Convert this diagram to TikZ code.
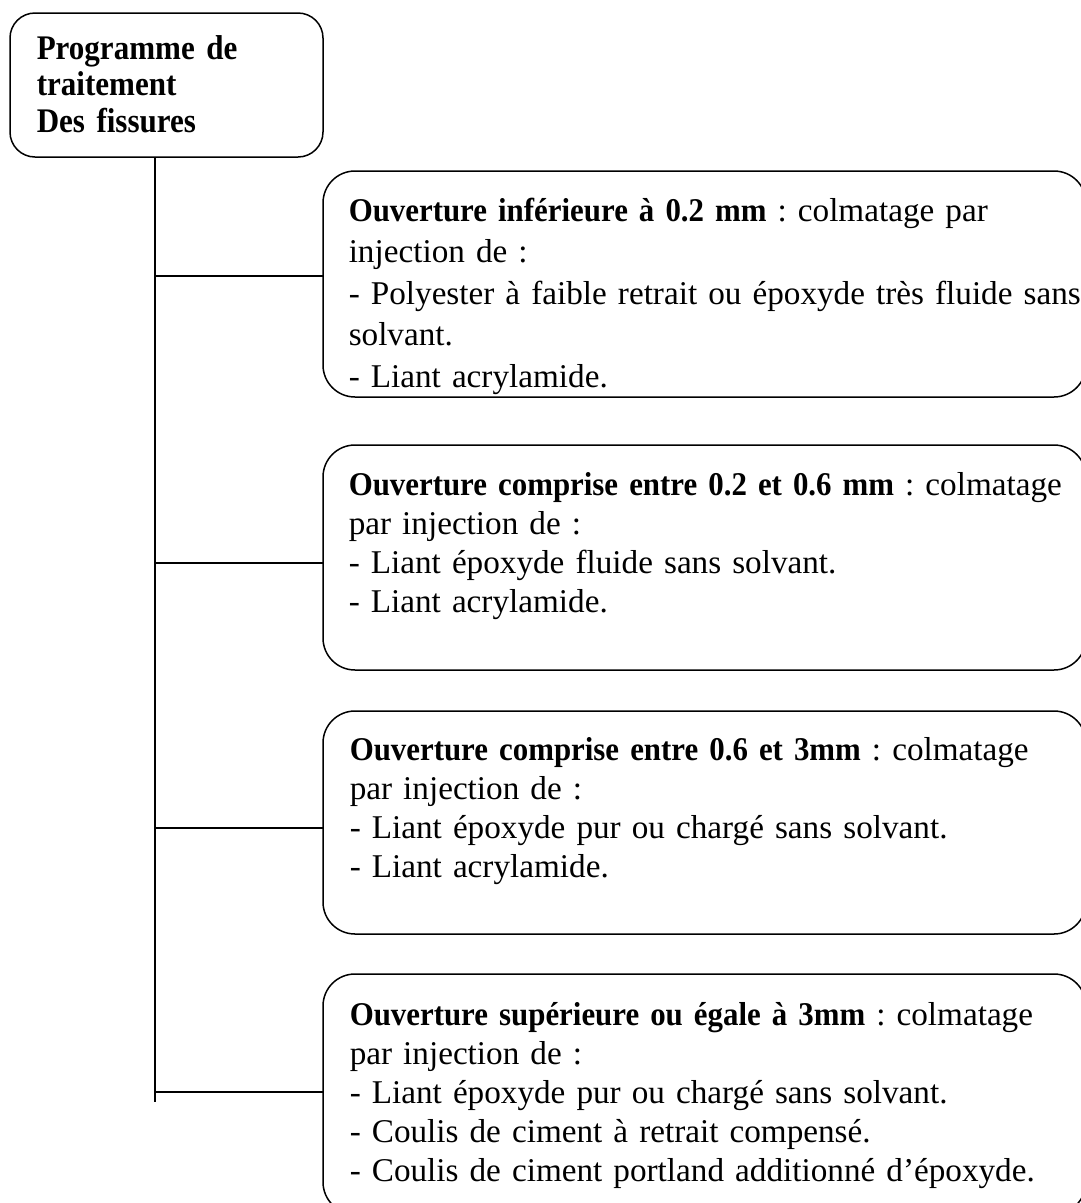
\documentclass[tikz,border=0pt]{standalone}
\usepackage{fontspec}
\setmainfont{Liberation Serif}[BoldFeatures={FakeStretch=0.93}]
\newfontfamily\ttlfont{Liberation Serif}[FakeStretch=0.9]
\frenchspacing
\begin{document}
\begin{tikzpicture}[x=1pt,y=-1pt,line width=1.5pt,
  box/.style={draw, rounded corners=32pt, minimum width=763pt, anchor=north west, inner sep=0pt, outer sep=0pt},
  titlebox/.style={draw, rounded corners=25pt, minimum width=313pt, minimum height=144pt, anchor=north west, inner sep=0pt, outer sep=0pt},
  txt/.style={anchor=base west, inner sep=0pt, text width=900pt, align=left, font=\fontsize{33.2}{39}\selectfont},
  txtA/.style={txt, font=\fontsize{33.2}{41.5}\selectfont},
  ttl/.style={anchor=base west, inner sep=0pt, text width=300pt, align=left, font=\ttlfont\fontsize{34.5}{36.5}\selectfont\bfseries},
  conn/.style={draw, line width=1.5pt}]
\useasboundingbox (0,0) rectangle (1081,1203);
% boxes
\node[titlebox] (t) at (10,13) {};
\node[box, minimum height=226pt] (b1) at (323,171) {};
\node[box, minimum height=225pt] (b2) at (323,445) {};
\node[box, minimum height=223pt] (b3) at (323,711) {};
\node[box, minimum height=240pt] (b4) at (323,974) {};
% texts
\node[ttl] (tt) at (36,59) {Programme de\\traitement\\Des fissures};
\node[txtA] (x1) at (348,221) {\textbf{Ouverture inférieure à 0.2 mm} : colmatage par\\injection de :\\- Polyester à faible retrait ou époxyde très fluide sans\\solvant.\\- Liant acrylamide.};
\node[txt] (x2) at (348,495) {\textbf{Ouverture comprise entre 0.2 et 0.6 mm} : colmatage\\par injection de :\\- Liant époxyde fluide sans solvant.\\- Liant acrylamide.};
\node[txt] (x3) at (349,760) {\textbf{Ouverture comprise entre 0.6 et 3mm} : colmatage\\par injection de :\\- Liant époxyde pur ou chargé sans solvant.\\- Liant acrylamide.};
\node[txt] (x4) at (349,1025) {\textbf{Ouverture supérieure ou égale à 3mm} : colmatage\\par injection de :\\- Liant époxyde pur ou chargé sans solvant.\\- Coulis de ciment à retrait compensé.\\- Coulis de ciment portland additionné d\symbol{39}époxyde.};
% trunk and branches
\coordinate (trunk) at (155,157);
\coordinate (trunkEnd) at (155,1102);
\coordinate (j1) at (155,276);
\coordinate (j2) at (155,563);
\coordinate (j3) at (155,828);
\coordinate (j4) at (155,1092);
\draw[conn] (trunk) -- (trunkEnd);
\draw[conn] (j1) -- (j1 -| b1.west);
\draw[conn] (j2) -- (j2 -| b2.west);
\draw[conn] (j3) -- (j3 -| b3.west);
\draw[conn] (j4) -- (j4 -| b4.west);
\end{tikzpicture}
\end{document}
